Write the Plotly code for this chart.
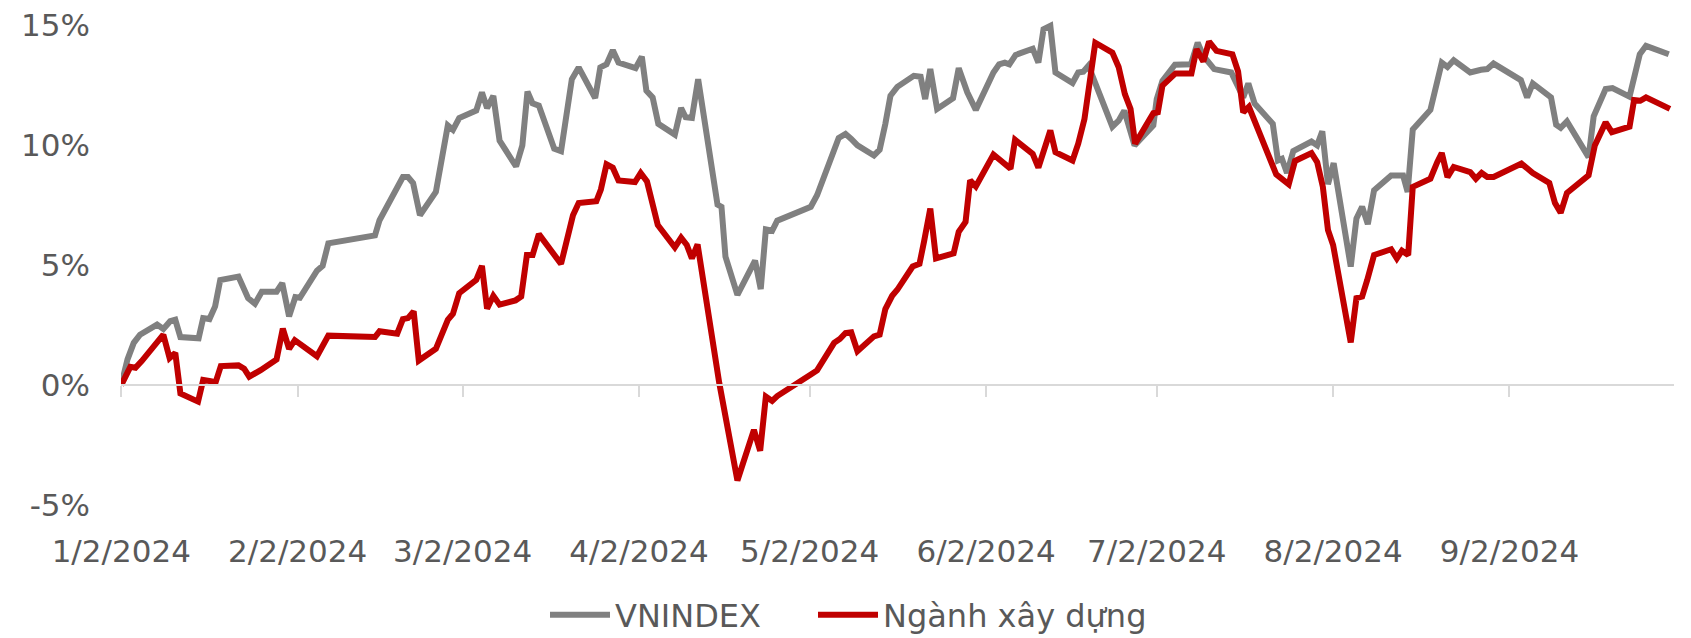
import pandas as pd
import plotly.graph_objects as go

# ---- data (x = days after 2 Jan 2024, y = % change) ----
vn_days = [0, 1.1, 2.2, 3.3, 6.3, 7.4, 8.6, 9.5, 10.4, 13.6, 14.4, 15.5, 16.5, 17.4, 20.6, 22.3, 23.5,
           24.7, 27.3, 28.3, 29.5, 30.6, 31.4, 33.0, 34.4, 35.4, 36.4, 44.6, 45.4, 49.5, 50.4, 51.3,
           52.5, 55.3, 56.3, 57.4, 58.3, 59.4, 62.4, 63.4, 64.3, 65.4, 66.5, 69.4, 70.5, 71.4, 72.3,
           73.4, 76.1, 77.3, 79.2, 80.4, 83.3, 84.2, 85.3, 86.4, 87.4, 90.4, 91.5, 92.3, 93.4, 94.4,
           97.3, 98.4, 99.2, 100.3, 101.4, 104.8, 105.5, 106.2, 108.3, 111.4, 112.4, 113.3, 114.4,
           115.3, 121.2, 122.3, 126.1, 127.3, 128.3, 129.4, 132.3, 133.3, 134.3, 135.2, 136.4, 139.3,
           140.5, 141.3, 142.2, 143.4, 146.2, 147.2, 148.7, 150.2, 153.3, 154.3, 155.3, 156.1, 157.2,
           160.2, 161.2, 162.1, 163.3, 164.2, 167.2, 168.2, 169.1, 170.0, 174.2, 175.3, 176.3, 178.1,
           181.4, 182.0, 183.0, 185.2, 188.0, 189.2, 190.2, 192.1, 195.1, 197.2, 198.1, 199.2, 202.4,
           203.3, 204.0, 204.9, 206.0, 209.2, 210.2, 211.1, 212.1, 213.1, 216.1, 217.1, 218.1, 219.1,
           220.2, 223.2, 225.3, 226.1, 227.0, 230.1, 232.1, 233.1, 234.2, 237.1, 239.0, 240.1, 241.2,
           246.0, 247.1, 248.1, 251.3, 252.2, 253.0, 254.1, 257.9, 258.8, 260.9, 262.1, 265.1, 266.9,
           268.0, 272.0]
vn_values = [0, 1.07, 1.76, 2.10, 2.52, 2.34, 2.66, 2.72, 2.00, 1.95, 2.79, 2.75, 3.28, 4.38, 4.52, 3.62,
             3.39, 3.89, 3.89, 4.25, 2.86, 3.67, 3.64, 4.25, 4.77, 4.97, 5.91, 6.24, 6.87, 8.67, 8.67,
             8.42, 7.08, 8.05, 9.23, 10.82, 10.64, 11.13, 11.44, 12.20, 11.54, 12.05, 10.19, 9.11, 9.99,
             12.23, 11.74, 11.65, 9.85, 9.75, 12.75, 13.24, 11.96, 13.24, 13.37, 13.96, 13.44, 13.21,
             13.69, 12.27, 11.99, 10.89, 10.44, 11.55, 11.16, 11.13, 12.75, 7.52, 7.43, 5.35, 3.76,
             5.19, 4.00, 6.49, 6.43, 6.85, 7.43, 7.91, 10.30, 10.47, 10.26, 9.99, 9.57, 9.81, 10.89,
             12.06, 12.43, 12.89, 12.85, 11.92, 13.17, 11.51, 11.96, 13.21, 12.20, 11.47, 13.03, 13.37,
             13.44, 13.37, 13.76, 14.02, 13.44, 14.83, 14.97, 13.03, 12.59, 13.03, 13.06, 13.31, 10.77,
             11.02, 11.44, 9.99, 10.82, 11.92, 12.68, 13.35, 13.37, 14.27, 13.72, 13.17, 13.03, 11.99,
             12.57, 11.74, 10.89, 9.36, 9.43, 8.84, 9.75, 10.15, 9.99, 10.58, 8.37, 9.25, 4.94, 6.94,
             7.43, 6.71, 8.12, 8.74, 8.74, 8.05, 10.65, 11.47, 13.44, 13.26, 13.54, 13.03, 13.14, 13.17,
             13.40, 12.71, 11.99, 12.57, 11.99, 10.85, 10.72, 10.99, 9.50, 11.20, 12.34, 12.38, 12.02,
             13.79, 14.14, 13.79]

xd_days = [0, 1.6, 2.5, 3.6, 7.4, 8.5, 9.5, 10.4, 13.5, 14.4, 15.5, 16.6, 17.5, 20.6, 21.6, 22.5, 24.5,
           27.3, 28.4, 29.5, 30.5, 34.4, 36.4, 44.6, 45.4, 48.5, 49.5, 50.4, 51.4, 52.3, 55.3, 56.1,
           57.4, 58.3, 59.4, 62.4, 63.4, 64.3, 65.4, 66.5, 69.3, 70.3, 71.3, 72.3, 73.4, 77.3, 79.4,
           80.4, 83.5, 84.3, 85.3, 86.4, 87.4, 90.3, 91.3, 92.4, 93.3, 94.3, 97.3, 98.4, 99.4, 100.3,
           101.3, 104.1, 105.1, 108.3, 111.2, 112.3, 113.3, 114.4, 115.3, 121.2, 122.3, 125.3, 126.3,
           127.3, 128.3, 129.4, 132.3, 133.3, 134.3, 135.5, 136.4, 139.1, 140.3, 141.1, 142.2, 143.2,
           146.3, 147.2, 148.4, 149.2, 150.2, 153.3, 156.3, 157.1, 160.2, 161.2, 163.3, 164.2, 167.2,
           168.2, 169.3, 171.2, 174.2, 175.3, 176.4, 177.4, 178.2, 181.4, 182.2, 183.0, 185.3, 188.1,
           189.0, 190.2, 191.2, 192.5, 195.3, 196.3, 197.2, 198.2, 203.0, 205.2, 206.3, 209.2, 210.2,
           211.2, 212.1, 213.0, 216.1, 217.1, 218.1, 219.0, 220.2, 223.2, 224.2, 225.1, 226.2, 227.0,
           230.1, 231.3, 232.1, 233.1, 234.2, 237.1, 238.1, 239.1, 240.1, 241.2, 246.1, 248.1, 251.0,
           252.0, 253.0, 254.1, 257.9, 259.0, 260.9, 262.0, 265.1, 265.9, 267.0, 268.0, 272.2]
xd_values = [0, 0.76, 0.72, 1.00, 2.10, 1.13, 1.34, -0.35, -0.69, 0.21, 0.17, 0.12, 0.79, 0.82, 0.68,
             0.35, 0.62, 1.07, 2.35, 1.51, 1.87, 1.20, 2.06, 2.00, 2.24, 2.14, 2.75, 2.79, 3.07, 1.02,
             1.51, 1.94, 2.72, 2.97, 3.83, 4.38, 4.97, 3.18, 3.72, 3.35, 3.53, 3.69, 5.42, 5.42, 6.29,
             5.05, 7.08, 7.59, 7.66, 8.15, 9.20, 9.06, 8.53, 8.46, 8.84, 8.49, 7.73, 6.67, 5.74, 6.14,
             5.84, 5.28, 5.86, 1.34, 0.10, -3.98, -1.87, -2.74, -0.48, -0.66, -0.46, 0.44, 0.61, 1.76,
             1.92, 2.17, 2.20, 1.41, 2.03, 2.10, 3.17, 3.72, 3.97, 4.94, 5.05, 5.98, 7.36, 5.28, 5.49,
             6.39, 6.80, 8.53, 8.28, 9.61, 9.02, 10.22, 9.64, 9.06, 10.61, 9.71, 9.36, 10.06, 11.09,
             14.27, 13.86, 13.26, 12.13, 11.51, 10.06, 11.33, 11.37, 12.48, 12.99, 12.99, 14.00, 13.49,
             14.32, 13.93, 13.79, 13.07, 11.37, 11.60, 8.78, 8.37, 9.34, 9.67, 9.29, 8.26, 6.46, 5.84,
             1.78, 3.62, 3.69, 4.38, 5.42, 5.66, 5.28, 5.60, 5.42, 8.26, 8.60, 9.29, 9.67, 8.67, 9.09,
             8.88, 8.60, 8.84, 8.67, 8.67, 9.23, 8.84, 8.42, 7.59, 7.18, 8.01, 8.74, 9.99, 10.95, 10.54,
             10.77, 11.88, 11.85, 11.99, 11.51]

series_names = ["VNINDEX", "Ngành xây dựng"]
tick_dates = ["2024-01-02", "2024-02-02", "2024-03-02", "2024-04-02", "2024-05-02",
              "2024-06-02", "2024-07-02", "2024-08-02", "2024-09-02"]
tick_labels = ["1/2/2024", "2/2/2024", "3/2/2024", "4/2/2024", "5/2/2024",
               "6/2/2024", "7/2/2024", "8/2/2024", "9/2/2024"]
y_ticks = [-5, 0, 5, 10, 15]
y_labels = ["-5%", "0%", "5%", "10%", "15%"]

start = pd.Timestamp("2024-01-02")
vn_x = start + pd.to_timedelta(vn_days, unit="D")
xd_x = start + pd.to_timedelta(xd_days, unit="D")

FONT = "DejaVu Sans"
TXT = "#595959"
x_range = ["2024-01-01 23:00", "2024-09-30 22:00"]
y_range = [-5, 15.3]

fig = go.Figure()
fig.add_trace(go.Scatter(x=vn_x, y=vn_values, mode="lines", name=series_names[0],
                         legend="legend",
                         line=dict(color="#808080", width=6, shape="linear")))
fig.add_trace(go.Scatter(x=xd_x, y=xd_values, mode="lines", name=series_names[1],
                         legend="legend2",
                         line=dict(color="#C00000", width=6, shape="linear")))

leg_common = dict(orientation="h", xanchor="left", y=-0.226, yanchor="middle",
                  itemwidth=60, font=dict(family=FONT, size=32, color=TXT),
                  bgcolor="rgba(0,0,0,0)")

fig.update_layout(
    width=1691, height=638,
    margin=dict(l=121, r=17, t=18, b=133, autoexpand=False),
    paper_bgcolor="white", plot_bgcolor="white",
    font=dict(family=FONT, size=31, color=TXT),
    xaxis=dict(type="date", range=x_range, tickvals=tick_dates, ticktext=tick_labels,
               showgrid=False, zeroline=False, showline=False, ticks="", automargin=False,
               ticklabelstandoff=25, tickfont=dict(family=FONT, size=31, color=TXT)),
    xaxis2=dict(type="date", range=x_range, tickvals=tick_dates, overlaying="x",
                anchor="free", position=(0 - y_range[0]) / (y_range[1] - y_range[0]),
                side="bottom", showline=True, linecolor="#D9D9D9", linewidth=2,
                ticks="outside", ticklen=11, tickwidth=2, tickcolor="#D9D9D9",
                showticklabels=False, showgrid=False, zeroline=False, automargin=False),
    yaxis=dict(range=y_range, tickvals=y_ticks, ticktext=y_labels, showgrid=False,
               zeroline=False, showline=False, ticks="", ticklabelstandoff=30, automargin=False,
               tickfont=dict(family=FONT, size=31, color=TXT)),
    legend=dict(x=(545 - 121) / 1553, **leg_common),
    legend2=dict(x=(813 - 121) / 1553, **leg_common),
    showlegend=True,
)
# invisible helper trace that activates the zero-line axis (xaxis2)
fig.add_trace(go.Scatter(x=vn_x[:1], y=vn_values[:1], xaxis="x2", mode="lines",
                         showlegend=False, hoverinfo="skip", line=dict(width=0)))

fig.write_html("out.html", config={"displayModeBar": False},
               post_script="document.body.style.margin='0';document.body.style.overflow='hidden';")
